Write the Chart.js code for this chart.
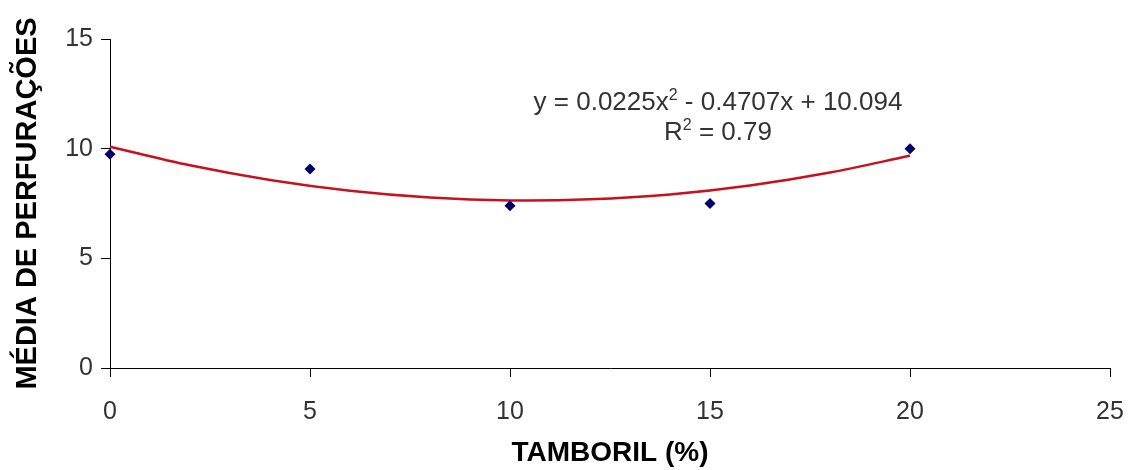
<!DOCTYPE html>
<html>
<head>
<meta charset="utf-8">
<script src="https://cdn.jsdelivr.net/npm/chart.js@4"></script>
<style>
    body { margin: 0; background: #fff; }
    #wrap { width: 1128px; height: 470px; }
</style>
</head>
<body>
<div id="wrap"><canvas id="chart"></canvas></div>
<script>
// Data
const tamboril = [0, 5, 10, 15, 20];
const perfuracoes = [9.75, 9.07, 7.4, 7.5, 10.0];

// fitted curve as seen in the picture
const trendX = [0, 2, 4, 6, 8, 10, 12, 14, 16, 18, 20];
const trendY = [10.09, 9.24, 8.57, 8.08, 7.77, 7.64, 7.69, 7.91, 8.32, 8.91, 9.68];

const xTicks = [0, 5, 10, 15, 20, 25];
const yTicks = [0, 5, 10, 15];

const eqLine1 = ['y = 0.0225x', '2', ' - 0.4707x + 10.094'];
const eqLine2 = ['R', '2', ' = 0.79'];

const FONT = '"Liberation Sans", Arial, sans-serif';
const $ = id => document.getElementById(id);

// draws the trendline equation, with superscripts
const equationLabel = {
    id: 'equationLabel',
    afterDraw(chart) {
        const { ctx, scales: { x, y } } = chart;
        const cx = x.getPixelForValue(15.2);
        const drawLine = (parts, base) => {
            const big = `26px ${FONT}`, small = `16px ${FONT}`;
            ctx.font = big;
            const w0 = ctx.measureText(parts[0]).width;
            const w2 = ctx.measureText(parts[2]).width;
            ctx.font = small;
            const w1 = ctx.measureText(parts[1]).width;
            let left = cx - (w0 + w1 + w2) / 2;
            ctx.fillStyle = '#333';
            ctx.textBaseline = 'alphabetic';
            ctx.textAlign = 'left';
            ctx.font = big;
            ctx.fillText(parts[0], left, base);
            ctx.font = small;
            ctx.fillText(parts[1], left + w0, base - 10);
            ctx.font = big;
            ctx.fillText(parts[2], left + w0 + w1, base);
        };
        ctx.save();
        drawLine(eqLine1, y.getPixelForValue(11.75));
        drawLine(eqLine2, y.getPixelForValue(10.4));
        ctx.restore();
    }
};

const axisGrid = {
    drawOnChartArea: false,
    drawTicks: true,
    tickLength: 9,
    color: '#000',
    lineWidth: 1
};

new Chart($('chart').getContext('2d'), {
    type: 'scatter',
    data: {
        datasets: [{
            data: tamboril.map((v, i) => ({ x: v, y: perfuracoes[i] })),
            pointStyle: 'rectRot',
            pointRadius: 5.5,
            pointBackgroundColor: '#000066',
            pointBorderColor: '#000066',
            borderWidth: 0,
            clip: false,
            order: 0
        }, {
            data: trendX.map((v, i) => ({ x: v, y: trendY[i] })),
            showLine: true,
            borderColor: '#c8101e',
            borderWidth: 2.5,
            pointRadius: 0,
            tension: 0.35,
            clip: false,
            order: 1
        }]
    },
    options: {
        responsive: true,
        maintainAspectRatio: false,
        animation: false,
        layout: { padding: { top: 39, right: 18, left: 0, bottom: 0 } },
        plugins: {
            legend: { display: false },
            tooltip: { enabled: false }
        },
        scales: {
            x: {
                type: 'linear',
                min: 0, max: 25,
                afterBuildTicks: s => { s.ticks = xTicks.map(v => ({ value: v })); },
                afterFit: s => { s.height = 102; s.paddingRight = 0; s.paddingLeft = 0; },
                grid: axisGrid,
                border: { display: true, color: '#000', width: 1 },
                ticks: { color: '#333', padding: 20, font: { family: FONT, size: 25 } },
                title: {
                    display: true,
                    text: 'TAMBORIL (%)',
                    color: '#000',
                    padding: 0,
                    font: { family: FONT, size: 28, weight: 'bold' }
                }
            },
            y: {
                min: 0, max: 15,
                afterBuildTicks: s => { s.ticks = yTicks.map(v => ({ value: v })); },
                afterFit: s => { s.width = 110; s.paddingTop = 0; s.paddingBottom = 0; },
                grid: axisGrid,
                border: { display: true, color: '#000', width: 1 },
                ticks: { color: '#333', padding: 8, font: { family: FONT, size: 25 } },
                title: {
                    display: true,
                    text: 'MÉDIA DE PERFURAÇÕES',
                    color: '#000',
                    padding: { top: 11, bottom: 0 },
                    font: { family: FONT, size: 29, weight: 'bold' }
                }
            }
        }
    },
    plugins: [equationLabel]
});
</script>
</body>
</html>
